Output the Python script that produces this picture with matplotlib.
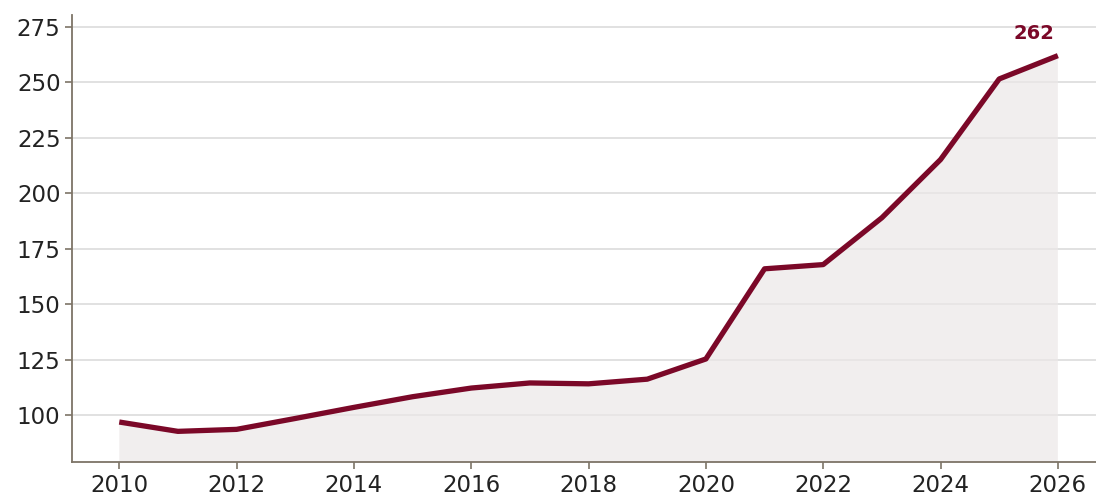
import matplotlib.pyplot as plt

years = list(range(2010, 2027))
values = [97, 92.8, 93.7, 98.6, 103.6, 108.4, 112.3, 114.6, 114.2, 116.3, 125.4,
          166, 167.9, 189, 215.2, 251.5, 262]
yticks = [100, 125, 150, 175, 200, 225, 250, 275]
xticks = list(range(2010, 2027, 2))

line_col = '#7b0828'
spine_col = '#7d7467'

fig = plt.figure(figsize=(10.96, 5), dpi=100)
ax = fig.add_axes([0.066, 0.076, 0.934, 0.894])

ax.fill_between(years, values, 0, color='#ece8e8', alpha=0.7, lw=0, zorder=1)
ax.plot(years, values, color=line_col, lw=3.8, solid_capstyle='butt', zorder=3)

# label for the last value
ax.annotate(f'{values[-1]:.0f}', (years[-1], values[-1]), xytext=(-17, 9),
            textcoords='offset points', ha='center', va='bottom',
            color=line_col, fontsize=14, fontweight='bold')

ax.set_xlim(2009.2, 2026.65)
ax.set_ylim(79, 280.3)
ax.set_xticks(xticks)
ax.set_yticks(yticks)
ax.grid(axis='y', color='#d9d9d9', lw=1.1, zorder=0)
ax.set_axisbelow(True)

for s in ['top', 'right']:
    ax.spines[s].set_visible(False)
for s in ['left', 'bottom']:
    ax.spines[s].set_color(spine_col)
    ax.spines[s].set_linewidth(1.3)
ax.tick_params(colors=spine_col, labelcolor='#222222', labelsize=16.5, length=5, width=1.2)

fig.savefig('out.png', dpi=100)
